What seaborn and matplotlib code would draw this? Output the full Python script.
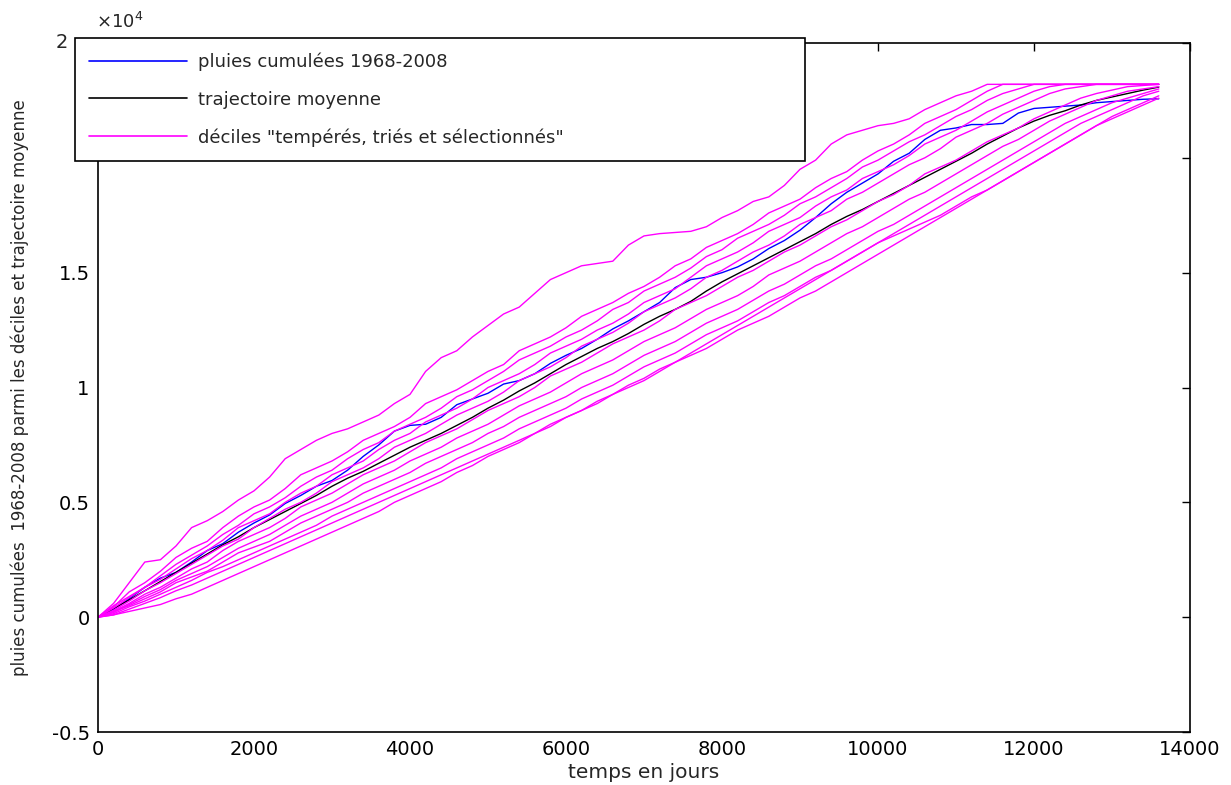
import numpy as np
import pandas as pd
import matplotlib
matplotlib.use("Agg")
import matplotlib.pyplot as plt
from matplotlib.lines import Line2D
import seaborn as sns

# --- Données (en mm, un point tous les 200 jours) ---
jours = list(range(0, 13601, 200))

pluies_1968_2008 = [0, 350, 800, 1300, 1700, 1950, 2400, 2900, 3200, 3700,
                    4100, 4450, 4950, 5300, 5700, 5950, 6400, 7000, 7500, 8100,
                    8350, 8400, 8700, 9250, 9500, 9750, 10150, 10300, 10600, 11050,
                    11400, 11700, 12100, 12550, 12900, 13300, 13700, 14350, 14700, 14800,
                    15000, 15250, 15600, 16050, 16400, 16850, 17400, 18000, 18500, 18900,
                    19300, 19850, 20200, 20800, 21200, 21300, 21450, 21450, 21500, 21950,
                    22150, 22200, 22250, 22300, 22400, 22450, 22500, 22550, 22570]

trajectoire_moyenne = [0, 380, 750, 1150, 1550, 1950, 2350, 2750, 3150, 3500,
                       3900, 4250, 4600, 4950, 5300, 5700, 6050, 6350, 6700, 7050,
                       7400, 7700, 8000, 8350, 8700, 9100, 9450, 9850, 10200, 10600,
                       11000, 11350, 11700, 12000, 12350, 12750, 13100, 13400, 13750, 14200,
                       14600, 14950, 15300, 15650, 16000, 16350, 16700, 17100, 17450, 17750,
                       18100, 18450, 18800, 19150, 19500, 19850, 20200, 20600, 20950, 21300,
                       21600, 21850, 22050, 22300, 22500, 22650, 22800, 22950, 23080]

decile_0 = [0, 600, 1500, 2400, 2500, 3100, 3900, 4200, 4600, 5100,
            5500, 6100, 6900, 7300, 7700, 8000, 8200, 8500, 8800, 9300,
            9700, 10700, 11300, 11600, 12200, 12700, 13200, 13500, 14100, 14700,
            15000, 15300, 15400, 15500, 16200, 16600, 16700, 16750, 16800, 17000,
            17400, 17700, 18100, 18300, 18800, 19500, 19900, 20600, 21000, 21200,
            21400, 21500, 21700, 22100, 22400, 22700, 22900, 23200, 23200, 23200,
            23200, 23200, 23200, 23200, 23200, 23200, 23200, 23200, 23200]
decile_1 = [0, 450, 1100, 1500, 2000, 2600, 3000, 3300, 3900, 4400,
            4800, 5100, 5600, 6200, 6500, 6800, 7200, 7700, 8000, 8300,
            8700, 9300, 9600, 9900, 10300, 10700, 11000, 11600, 11900, 12200,
            12600, 13100, 13400, 13700, 14100, 14400, 14800, 15300, 15600, 16100,
            16400, 16700, 17100, 17600, 17900, 18200, 18700, 19100, 19400, 19900,
            20300, 20600, 21000, 21500, 21800, 22100, 22500, 22900, 23200, 23200,
            23200, 23200, 23200, 23200, 23200, 23200, 23200, 23200, 23200]
decile_2 = [0, 500, 900, 1300, 1800, 2300, 2700, 3100, 3600, 4000,
            4500, 4800, 5200, 5700, 6100, 6400, 6900, 7300, 7600, 8100,
            8400, 8700, 9100, 9600, 9900, 10300, 10700, 11200, 11500, 11800,
            12200, 12500, 12900, 13400, 13700, 14200, 14500, 14800, 15200, 15700,
            16000, 16500, 16800, 17100, 17500, 18000, 18300, 18700, 19100, 19600,
            19900, 20300, 20700, 21000, 21400, 21800, 22100, 22500, 22800, 23000,
            23200, 23200, 23200, 23200, 23200, 23200, 23200, 23200, 23200]
decile_3 = [0, 400, 850, 1300, 1650, 2100, 2550, 2900, 3350, 3900,
            4200, 4500, 5000, 5400, 5700, 6200, 6500, 6800, 7300, 7700,
            8000, 8500, 8800, 9100, 9500, 10000, 10300, 10600, 11000, 11500,
            11800, 12100, 12500, 12800, 13200, 13700, 14000, 14300, 14800, 15300,
            15600, 15900, 16300, 16800, 17100, 17400, 17900, 18300, 18600, 19100,
            19400, 19700, 20100, 20600, 20900, 21200, 21600, 22000, 22300, 22600,
            22900, 23100, 23200, 23200, 23200, 23200, 23200, 23200, 23200]
decile_4 = [0, 300, 700, 1150, 1500, 1900, 2300, 2700, 3100, 3400,
            3900, 4300, 4700, 5000, 5400, 5900, 6200, 6500, 6900, 7400,
            7700, 8000, 8400, 8800, 9100, 9400, 9800, 10300, 10600, 10900,
            11300, 11800, 12100, 12400, 12800, 13300, 13600, 13900, 14300, 14800,
            15100, 15500, 15900, 16200, 16600, 17100, 17400, 17700, 18200, 18500,
            18900, 19300, 19700, 20000, 20400, 20900, 21200, 21500, 21900, 22200,
            22500, 22800, 23000, 23100, 23200, 23200, 23200, 23200, 23200]
decile_5 = [0, 250, 600, 1000, 1300, 1700, 2100, 2400, 2900, 3300,
            3600, 3900, 4300, 4800, 5100, 5400, 5800, 6200, 6500, 6800,
            7200, 7600, 7900, 8200, 8600, 9000, 9300, 9600, 10000, 10500,
            10800, 11100, 11500, 11900, 12200, 12500, 12900, 13400, 13700, 14000,
            14400, 14800, 15100, 15500, 15900, 16200, 16600, 17000, 17300, 17700,
            18100, 18400, 18800, 19300, 19600, 19900, 20300, 20700, 21000, 21300,
            21700, 22000, 22300, 22600, 22800, 22950, 23100, 23150, 23200]
decile_6 = [0, 200, 550, 900, 1200, 1600, 1900, 2200, 2600, 3000,
            3300, 3600, 4000, 4400, 4700, 5000, 5400, 5800, 6100, 6400,
            6800, 7100, 7400, 7800, 8100, 8400, 8800, 9200, 9500, 9800,
            10200, 10600, 10900, 11200, 11600, 12000, 12300, 12600, 13000, 13400,
            13700, 14000, 14400, 14900, 15200, 15500, 15900, 16300, 16700, 17000,
            17400, 17800, 18200, 18500, 18900, 19300, 19700, 20100, 20500, 20800,
            21200, 21600, 21900, 22200, 22500, 22700, 22900, 23000, 23100]
decile_7 = [0, 250, 500, 800, 1100, 1500, 1750, 2000, 2400, 2800,
            3050, 3300, 3700, 4100, 4400, 4700, 5000, 5400, 5700, 6000,
            6300, 6700, 7000, 7300, 7600, 8000, 8300, 8700, 9000, 9300,
            9600, 10000, 10300, 10600, 11000, 11400, 11700, 12000, 12400, 12800,
            13100, 13400, 13800, 14200, 14500, 14900, 15300, 15600, 16000, 16400,
            16800, 17100, 17500, 17900, 18300, 18700, 19100, 19500, 19900, 20300,
            20700, 21100, 21500, 21800, 22100, 22400, 22600, 22800, 23000]
decile_8 = [0, 150, 450, 700, 1000, 1300, 1600, 1950, 2200, 2500,
            2800, 3100, 3400, 3700, 4000, 4400, 4700, 5000, 5300, 5600,
            5900, 6200, 6500, 6900, 7200, 7500, 7800, 8200, 8500, 8800,
            9100, 9500, 9800, 10100, 10500, 10900, 11200, 11500, 11900, 12300,
            12600, 12900, 13300, 13700, 14000, 14400, 14800, 15100, 15500, 15900,
            16300, 16700, 17100, 17500, 17900, 18300, 18700, 19100, 19500, 19900,
            20300, 20700, 21100, 21500, 21800, 22100, 22400, 22700, 22900]
decile_9 = [0, 100, 350, 600, 850, 1150, 1400, 1700, 2000, 2300,
            2600, 2900, 3200, 3500, 3800, 4100, 4400, 4700, 5000, 5300,
            5600, 5900, 6200, 6500, 6800, 7100, 7400, 7700, 8000, 8400,
            8700, 9000, 9300, 9700, 10000, 10300, 10700, 11100, 11400, 11700,
            12100, 12500, 12800, 13100, 13500, 13900, 14200, 14600, 15000, 15400,
            15800, 16200, 16600, 17000, 17400, 17800, 18200, 18600, 19000, 19400,
            19800, 20200, 20600, 21000, 21400, 21800, 22100, 22400, 22700]
decile_10 = [0, 100, 250, 400, 550, 800, 1000, 1300, 1600, 1900,
             2200, 2500, 2800, 3100, 3400, 3700, 4000, 4300, 4600, 5000,
             5300, 5600, 5900, 6300, 6600, 7000, 7300, 7600, 8000, 8300,
             8700, 9000, 9400, 9700, 10100, 10400, 10800, 11100, 11500, 11900,
             12300, 12700, 13100, 13500, 13900, 14300, 14700, 15100, 15500, 15900,
             16300, 16600, 16900, 17200, 17500, 17900, 18300, 18600, 19000, 19400,
             19800, 20200, 20600, 21000, 21400, 21700, 22000, 22300, 22600]

deciles = [decile_0, decile_1, decile_2, decile_3, decile_4, decile_5,
           decile_6, decile_7, decile_8, decile_9, decile_10]

yticks_val = [-5000, 0, 5000, 10000, 15000, 20000, 25000]
yticks_lab = ['-0.5', '0', '0.5', '1', '1.5', '', '']
xticks_val = [0, 2000, 4000, 6000, 8000, 10000, 12000, 14000]

for serie in [pluies_1968_2008, trajectoire_moyenne] + deciles:
    assert len(serie) == len(jours), len(serie)

# --- Tableaux pour seaborn ---
df_obs = pd.DataFrame({'jour': jours, 'pluie': pluies_1968_2008})
df_moy = pd.DataFrame({'jour': jours, 'pluie': trajectoire_moyenne})
df_dec = pd.concat(
    [pd.DataFrame({'jour': jours, 'pluie': d, 'serie': i}) for i, d in enumerate(deciles)],
    ignore_index=True)

# --- Style ---
sns.set_theme(style="white")
plt.rcParams['font.family'] = ['DejaVu Sans']
plt.rcParams['xtick.direction'] = 'in'
plt.rcParams['ytick.direction'] = 'in'

fig = plt.figure(figsize=(12.31, 7.85), dpi=100)
ax = fig.add_axes([98 / 1231, 1 - 732 / 785, (1190 - 98) / 1231, (732 - 43) / 785])

sns.lineplot(data=df_obs, x='jour', y='pluie', color='#0000ff', linewidth=1.0, ax=ax)
sns.lineplot(data=df_moy, x='jour', y='pluie', color='black', linewidth=1.0, ax=ax)
sns.lineplot(data=df_dec, x='jour', y='pluie', units='serie', estimator=None,
             color='#ff00ff', linewidth=1.0, ax=ax)

ax.set_xlim(0, 14000)
ax.set_ylim(-5000, 25000)
ax.set_xticks(xticks_val)
ax.set_xticklabels([str(v) for v in xticks_val])
ax.set_yticks(yticks_val)
ax.set_yticklabels(yticks_lab)
ax.tick_params(axis='both', which='both', labelsize=14, length=6, width=1,
               colors='black', top=True, right=True, pad=6)
for s in ax.spines.values():
    s.set_color('black')
    s.set_linewidth(1.2)

ax.set_xlabel('temps en jours', fontsize=14.5, labelpad=3)
ax.set_ylabel('pluies cumulées  1968-2008 parmi les déciles et trajectoire moyenne',
              fontsize=12, labelpad=16)
# étiquette "2" du haut de l'axe, à gauche du cadre de légende
fig.text(62 / 1231, 1 - 43 / 785, '2', fontsize=14, ha='center', va='center')
fig.text(96 / 1231, 1 - 28 / 785, r'$\times$10$^{4}$', fontsize=13, ha='left', va='baseline')

handles = [Line2D([], [], color='#0000ff', lw=1.2),
           Line2D([], [], color='black', lw=1.2),
           Line2D([], [], color='#ff00ff', lw=1.2)]
labels = ['pluies cumulées 1968-2008', 'trajectoire moyenne',
          'déciles "tempérés, triés et sélectionnés"']
leg = ax.legend(handles, labels, loc='upper left', mode='expand',
                bbox_to_anchor=(75 / 1231, 1 - 160 / 785, 730 / 1231, 122 / 785),
                bbox_transform=fig.transFigure, borderaxespad=0, fontsize=13,
                handlelength=5.4, handletextpad=0.6, labelspacing=1.09,
                borderpad=0.8, fancybox=False, framealpha=1, edgecolor='black')
leg.get_frame().set_linewidth(1.2)

fig.savefig('out.png', dpi=100)
